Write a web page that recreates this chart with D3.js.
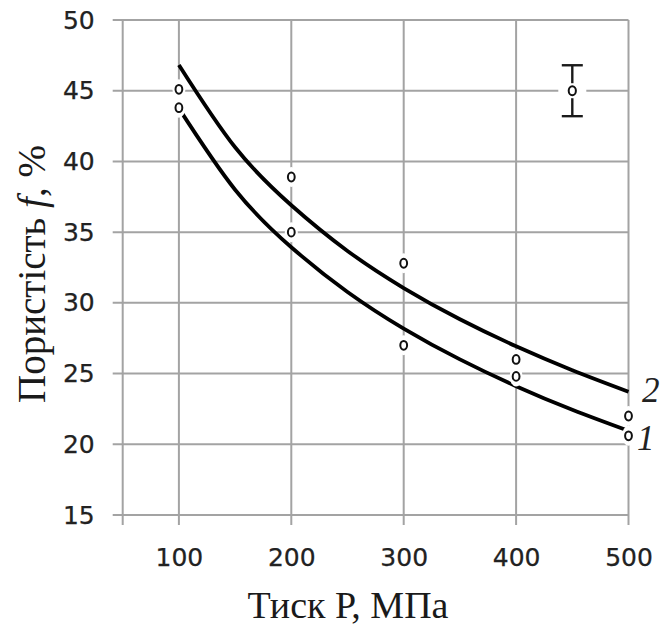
<!DOCTYPE html>
<html>
<head>
<meta charset="utf-8">
<script src="https://cdn.jsdelivr.net/npm/d3@7"></script>
<style>
  html, body { margin: 0; padding: 0; background: #fff; }
  svg { display: block; }
</style>
</head>
<body>
<svg id="chart" width="661" height="626"></svg>
<script>
// Pressure grid (MPa) and measured porosity (%) for the two samples
const pressure = [100, 200, 300, 400, 500];
const measured1 = [43.8, 35.0, 27.0, 24.8, 20.6];
const measured2 = [45.1, 38.9, 32.8, 26.0, 22.0];

// Approximating curves 1 and 2, sampled every 50 MPa
const curvePressure = [100, 150, 200, 250, 300, 350, 400, 450, 500];
const curve1 = [43.75, 38.0, 33.93, 30.77, 28.18, 26.0, 24.11, 22.44, 20.95];
const curve2 = [46.82, 41.0, 36.9, 33.67, 31.05, 28.84, 26.93, 25.24, 23.72];

// Measurement error bar
const errPressure = [450];
const errValue = [45];
const errDelta = [1.8];

const xTicks = [100, 200, 300, 400, 500];
const yTicks = [15, 20, 25, 30, 35, 40, 45, 50];
const curveLabels = ["1", "2"];

const svg = d3.select("#chart");
const x = d3.scaleLinear().domain([50, 500]).range([122.7, 628.5]);
const y = d3.scaleLinear().domain([15, 50]).range([515, 20]);

const gridColor = "#a3a3a3";
const grid = svg.append("g");

// horizontal grid lines with outer tick marks
grid.selectAll("line.h").data(yTicks).join("line")
  .attr("x1", x(50) - 10).attr("x2", x(500))
  .attr("y1", d => y(d)).attr("y2", d => y(d))
  .attr("stroke", gridColor).attr("stroke-width", 2);

// vertical grid lines (including the value axis at 50 MPa)
grid.selectAll("line.v").data([50].concat(xTicks)).join("line")
  .attr("x1", d => x(d)).attr("x2", d => x(d))
  .attr("y1", y(50)).attr("y2", y(15) + 10)
  .attr("stroke", gridColor).attr("stroke-width", 2);

// tick labels through d3 axes
const tickFont = "'DejaVu Sans', Verdana, sans-serif";
const xAxis = svg.append("g")
  .attr("transform", `translate(0,${y(15)})`)
  .call(d3.axisBottom(x).tickValues(xTicks).tickSize(0).tickPadding(33));
const yAxis = svg.append("g")
  .attr("transform", `translate(${x(50)},0)`)
  .call(d3.axisLeft(y).tickValues(yTicks).tickSize(0).tickPadding(28));
[xAxis, yAxis].forEach(g => {
  g.select(".domain").remove();
  g.selectAll("text")
    .attr("font-family", tickFont)
    .attr("font-size", 25)
    .attr("fill", "#222")
    .attr("stroke", "#222")
    .attr("stroke-width", 0.25);
});

// approximating curves
const line = d3.line()
  .x((d, i) => x(curvePressure[i]))
  .y(d => y(d))
  .curve(d3.curveNatural);
[curve1, curve2].forEach(c => {
  svg.append("path").datum(c)
    .attr("d", line)
    .attr("fill", "none")
    .attr("stroke", "#000")
    .attr("stroke-width", 3.8);
});

// measured points: white halo, then open marker
const points = [];
pressure.forEach((p, i) => {
  points.push({ p, v: measured1[i] });
  points.push({ p, v: measured2[i] });
});
svg.selectAll("ellipse.halo").data(points).join("ellipse")
  .attr("cx", d => x(d.p)).attr("cy", d => y(d.v))
  .attr("rx", 6.5).attr("ry", 10)
  .attr("fill", "#fff");
svg.selectAll("ellipse.pt").data(points).join("ellipse")
  .attr("cx", d => x(d.p)).attr("cy", d => y(d.v))
  .attr("rx", 3.4).attr("ry", 4.4)
  .attr("fill", "#fff").attr("stroke", "#111").attr("stroke-width", 2);

// error bar
const eb = svg.append("g");
errPressure.forEach((p, i) => {
  const cx = x(p), top = y(errValue[i] + errDelta[i]), bot = y(errValue[i] - errDelta[i]);
  eb.append("line").attr("x1", cx).attr("x2", cx).attr("y1", top).attr("y2", bot)
    .attr("stroke", "#1a1a1a").attr("stroke-width", 2.4);
  [top, bot].forEach(yy => eb.append("line")
    .attr("x1", cx - 10.5).attr("x2", cx + 10.5).attr("y1", yy).attr("y2", yy)
    .attr("stroke", "#1a1a1a").attr("stroke-width", 2.4));
  eb.append("rect")
    .attr("x", cx - 14).attr("y", y(errValue[i]) - 7.5)
    .attr("width", 28).attr("height", 15).attr("fill", "#fff");
  eb.append("ellipse").attr("cx", cx).attr("cy", y(errValue[i]))
    .attr("rx", 3.6).attr("ry", 4.5)
    .attr("fill", "#fff").attr("stroke", "#111").attr("stroke-width", 2);
});

// curve numbers
const serif = "'Liberation Serif', 'Times New Roman', serif";
svg.append("text").text(curveLabels[1])
  .attr("x", 642).attr("y", 402)
  .attr("font-family", serif).attr("font-style", "italic").attr("font-size", 35).attr("fill", "#222");
svg.append("text").text(curveLabels[0])
  .attr("x", 637).attr("y", 450)
  .attr("font-family", serif).attr("font-style", "italic").attr("font-size", 35).attr("fill", "#222");

// axis titles
svg.append("text")
  .attr("x", 348).attr("y", 618)
  .attr("text-anchor", "middle")
  .attr("font-family", serif).attr("font-size", 38).attr("fill", "#1a1a1a")
  .text("Тиск Р, МПа");

const yt = svg.append("text")
  .attr("transform", "translate(45,403) rotate(-90)")
  .attr("text-anchor", "start")
  .attr("font-family", serif).attr("font-size", 39).attr("fill", "#1a1a1a");
yt.append("tspan").text("Пористість ");
yt.append("tspan").attr("font-style", "italic").text("f");
yt.append("tspan").text(", %");
</script>
</body>
</html>
